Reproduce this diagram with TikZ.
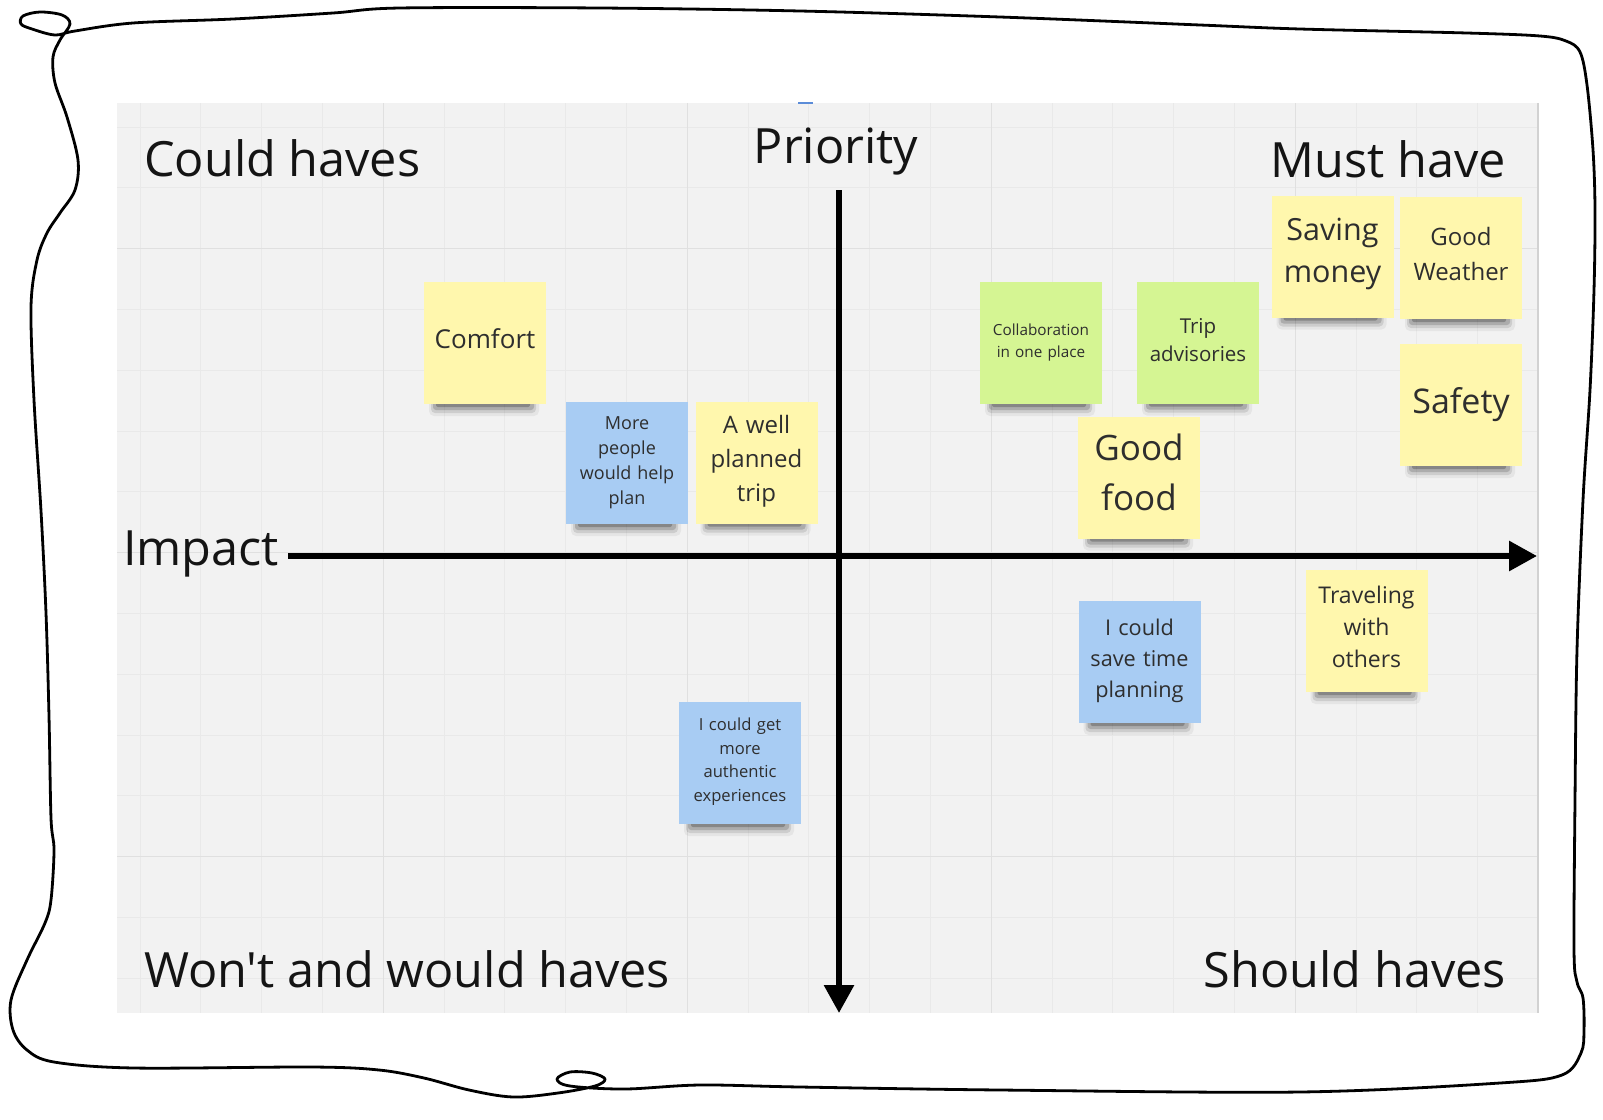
\documentclass[tikz,border=0pt]{standalone}
\usepackage{fontspec}
\setmainfont{Open Sans}[Ligatures=TeXOff]
\usetikzlibrary{arrows.meta}
\definecolor{board}{HTML}{F2F2F2}
\definecolor{gridc}{HTML}{E9E9E9}
\definecolor{gridmaj}{HTML}{E0E0E0}
\definecolor{edgec}{HTML}{D2D2D2}
\definecolor{noteyellow}{HTML}{FFF7AD}
\definecolor{notegreen}{HTML}{D5F593}
\definecolor{noteblue}{HTML}{A8CCF3}
\definecolor{inkc}{HTML}{141414}
\definecolor{notetextc}{HTML}{2E2E2E}
\definecolor{markc}{HTML}{5B8CD8}
% #1 name, #2 x, #3 y, #4 colour, #5 size, #6 line skip, #7 text dy, #8 text
\newcommand\sticky[8]{%
  \fill[black, opacity=0.05, rounded corners=5pt] (#2-56,#3+54) rectangle (#2+54,#3+73);
  \fill[black, opacity=0.10, rounded corners=4pt] (#2-54,#3+54) rectangle (#2+51,#3+70);
  \fill[black, opacity=0.16, rounded corners=3pt] (#2-52,#3+54) rectangle (#2+49,#3+67);
  \fill[black, opacity=0.22, rounded corners=2pt] (#2-49,#3+54) rectangle (#2+45,#3+64);
  \node[note, fill=#4] (#1) at (#2,#3) {};
  \node[notetext, font=\fontsize{#5}{#6}\selectfont] (#1t) at (#2,#3+#7) {#8};
}
\begin{document}
\begin{tikzpicture}[x=1pt,y=-1pt,
  title/.style={font=\fontsize{48.6}{58}\selectfont, inner sep=0pt, text=inkc},
  note/.style={rectangle, minimum width=122pt, minimum height=122pt, inner sep=0pt, draw=none},
  notetext/.style={align=center, text=notetextc, inner sep=0pt, text width=120pt},
  axis/.style={draw=black, line width=6pt, -{Triangle[width=29pt,length=28pt]}},
  frame/.style={draw=black, line width=2.8pt, line join=round, line cap=round}]
\fill[white] (0,0) rectangle (1603,1119);
\useasboundingbox (0,0) rectangle (1603,1119);
% board
\fill[board] (117,103) rectangle (1538,1013);
\foreach \i in {0,...,22} \draw[gridc, line width=1pt] ({140+60.8*\i},103) -- ({140+60.8*\i},1013);
\foreach \j in {0,...,14} \draw[gridc, line width=1pt] (117,{127+60.8*\j}) -- (1538,{127+60.8*\j});
\foreach \i in {4,9,14,19} \draw[gridmaj, line width=1.2pt] ({140+60.8*\i},103) -- ({140+60.8*\i},1013);
\foreach \j in {2,7,12} \draw[gridmaj, line width=1.2pt] (117,{127+60.8*\j}) -- (1538,{127+60.8*\j});
\draw[edgec, line width=2pt] (1538,103) -- (1538,1013);
\draw[markc, line width=1.5pt] (798,103) -- (813,103);
% titles
\node[title, anchor=base west] (could) at (144,176) {Could haves};
\node[title, anchor=base] (priority) at (836,163) {Priority};
\node[title, anchor=base east] (must) at (1506,177) {Must have};
\node[title, anchor=base west] (wont) at (144,987) {Won't and would haves};
\node[title, anchor=base east] (should) at (1506,987) {Should haves};
\node[title, anchor=base west] (impact) at (123,565) {Impact};
% axes
\coordinate (hstart) at (288,556);
\coordinate (hend) at (1537,556);
\coordinate (vtop) at (839,190);
\coordinate (vend) at (839,1013);
\draw[axis] (hstart) -- (hend);
\draw[axis] (vtop) -- (vend);
% sticky notes
\sticky{comfort}{485}{343}{noteyellow}{26}{36}{-4}{Comfort}
\sticky{people}{627}{463}{noteblue}{18}{25}{0}{More\\people\\would help\\plan}
\sticky{wellplanned}{756.5}{462.5}{noteyellow}{24}{34}{-1.5}{A well\\planned\\trip}
\sticky{authentic}{740}{763}{noteblue}{16.6}{23.5}{-1.5}{I could get\\more\\authentic\\experiences}
\sticky{collab}{1041}{343}{notegreen}{15.3}{22}{-0.5}{Collaboration\\in one place}
\sticky{advis}{1198}{342.5}{notegreen}{20.5}{28}{-2.5}{Trip\\advisories}
\sticky{food}{1139}{477.5}{noteyellow}{35}{50}{-5.5}{Good\\food}
\sticky{money}{1332.5}{256.5}{noteyellow}{30.5}{42}{-2.5}{Saving\\money}
\sticky{weather}{1461}{258}{noteyellow}{24}{35}{-4.5}{Good\\Weather}
\sticky{safety}{1461}{405}{noteyellow}{34}{46}{0}{Safety}
\sticky{savetime}{1139.5}{662}{noteblue}{21.7}{30.7}{-1}{I could\\save time\\planning}
\sticky{travel}{1366.5}{631}{noteyellow}{23}{32.2}{-4}{Traveling\\with\\others}
% hand-drawn frame
\draw[frame] plot[smooth cycle, tension=0.55] coordinates {
 (54,850) (51,818) (49,716) (46,613) (41,511) (34,400) (31,307) (37,260) (47,233)
 (60,213) (75,190) (78,160) (67,117) (55,83) (53,57) (60,40) (70,24) (62,15) (40,12)
 (23,16) (21,24) (32,29) (55,35) (75,31) (133,23) (233,19) (333,13) (400,8) (600,8)
 (800,11) (1000,17) (1200,25) (1300,29) (1467,33) (1540,36) (1566,41) (1580,52)
 (1587,85) (1593,150) (1595,210) (1594,290) (1590,390) (1583,500) (1577,650)
 (1575,800) (1574,950) (1577,982) (1583,998) (1584,1030) (1581,1053) (1562,1075)
 (1500,1083) (1300,1092) (1000,1090) (800,1087) (700,1085) (625,1089) (570,1086)
 (557,1079) (570,1072) (592,1073) (605,1079) (595,1086) (558,1093) (513,1097)
 (469,1090) (424,1078) (379,1070) (312,1067) (134,1068) (54,1062) (27,1050)
 (13,1030) (11,1000) (27,960) (45,923) (51,900)};
\end{tikzpicture}
\end{document}
